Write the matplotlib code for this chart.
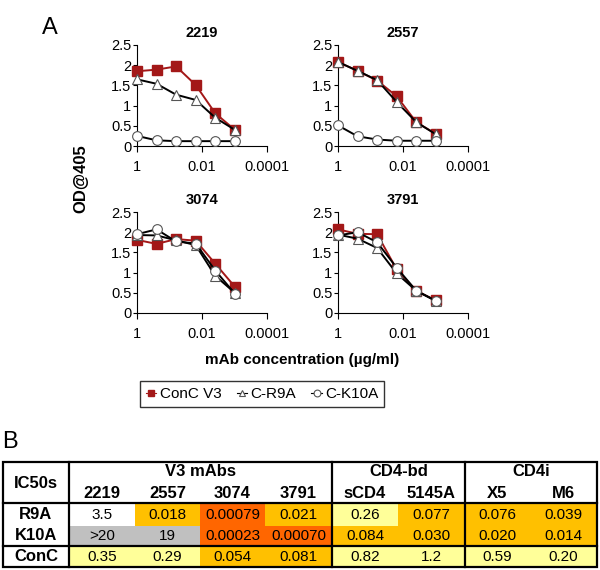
import matplotlib
matplotlib.use("Agg")
import matplotlib.pyplot as plt
from matplotlib.patches import Rectangle
from matplotlib.colors import ListedColormap, BoundaryNorm

plt.rcParams['font.family'] = ['Liberation Sans', 'DejaVu Sans']

# ---- panel A data (OD@405 vs mAb concentration, 4-fold dilutions) ----
conc = [1, 0.25, 0.0625, 0.015625, 0.00390625, 0.0009765625]
mabs = ['2219', '2557', '3074', '3791']

conc_v3 = [[1.85, 1.89, 1.97, 1.51, 0.81, 0.40],
           [2.08, 1.86, 1.62, 1.23, 0.59, 0.30],
           [1.81, 1.71, 1.83, 1.79, 1.22, 0.65],
           [2.07, 1.96, 1.95, 1.08, 0.55, 0.31]]
c_r9a = [[1.65, 1.54, 1.27, 1.14, 0.70, 0.40],
         [2.08, 1.86, 1.63, 1.09, 0.59, 0.29],
         [1.93, 1.92, 1.80, 1.68, 0.92, 0.50],
         [1.94, 1.84, 1.61, 0.98, 0.55, 0.30]]
c_k10a = [[0.25, 0.14, 0.12, 0.12, 0.12, 0.12],
          [0.51, 0.24, 0.16, 0.13, 0.13, 0.13],
          [1.95, 2.07, 1.77, 1.72, 1.05, 0.48],
          [1.92, 2.00, 1.75, 1.12, 0.55, 0.30]]

# ---- panel B data (IC50 table) ----
groups = ['V3 mAbs', 'CD4-bd', 'CD4i']
group_span = [4, 2, 2]
columns = ['2219', '2557', '3074', '3791', 'sCD4', '5145A', 'X5', 'M6']
rows = ['R9A', 'K10A', 'ConC']
ic50 = [['3.5', '0.018', '0.00079', '0.021', '0.26', '0.077', '0.076', '0.039'],
        ['>20', '19', '0.00023', '0.00070', '0.084', '0.030', '0.020', '0.014'],
        ['0.35', '0.29', '0.054', '0.081', '0.82', '1.2', '0.59', '0.20']]

fig = plt.figure(figsize=(6, 5.7), dpi=100)

red = '#a31818'
gray_edge = '#555555'
W, H = 600., 570.
col_left = [137, 338]
row_bottom = [146, 313]

for i, name in enumerate(mabs):
    r, c = i // 2, i % 2
    ax = fig.add_axes([col_left[c] / W, 1 - row_bottom[r] / H, 130 / W, 101 / H])
    ax.plot(conc, conc_v3[i], '-s', color=red, lw=1.4, ms=7, mec=red,
            label='ConC V3', zorder=3, clip_on=False)
    ax.plot(conc, c_r9a[i], '-^', color='black', lw=1.4, ms=7, mfc='white',
            mec=gray_edge, mew=0.8, label='C-R9A', zorder=4, clip_on=False)
    ax.plot(conc, c_k10a[i], '-o', color='black', lw=1.4, ms=7, mfc='white',
            mec=gray_edge, mew=0.8, label='C-K10A', zorder=5, clip_on=False)
    ax.set_xscale('log')
    ax.set_xlim(1, 1e-4)
    ax.set_ylim(0, 2.5)
    ax.set_xticks([1, 0.01, 0.0001])
    ax.set_xticklabels(['1', '0.01', '0.0001'])
    ax.minorticks_off()
    ax.set_yticks([0, 0.5, 1, 1.5, 2, 2.5])
    ax.set_yticklabels(['0', '0.5', '1', '1.5', '2', '2.5'])
    ax.tick_params(axis='x', length=4, pad=6, labelsize=10.5)
    ax.tick_params(axis='y', length=3, pad=1, labelsize=10.5)
    ax.spines['top'].set_visible(False)
    ax.spines['right'].set_visible(False)
    ax.set_title(name, fontsize=10.5, fontweight='bold', pad=6)
    ax.patch.set_alpha(0)
    if i == 0:
        handles, labels = ax.get_legend_handles_labels()

fig.text(0.07, 0.97, 'A', fontsize=17, va='top')
fig.text(81 / W, 1 - 179 / H, 'OD@405', rotation=90, fontsize=12,
         fontweight='bold', ha='center', va='center')
fig.text(302 / W, 1 - 360 / H, 'mAb concentration (µg/ml)', fontsize=11,
         fontweight='bold', ha='center', va='center')
leg = fig.legend(handles, labels, loc='center', ncol=3,
                 bbox_to_anchor=(262 / W, 1 - 394 / H), fontsize=11,
                 frameon=True, fancybox=False, edgecolor='black',
                 handlelength=0.7, handletextpad=0.2, columnspacing=1.0,
                 markerscale=0.7, borderpad=0.4)
leg.get_frame().set_linewidth(1.0)
for ln in leg.get_lines():
    ln.set_linewidth(0.8)

# ---- panel B table ----
fig.text(0.004, 1 - 431 / H, 'B', fontsize=17, va='top')
tax = fig.add_axes([3 / W, 1 - 567 / H, 594 / W, 105 / H])
tax.set_xlim(3, 597)
tax.set_ylim(567, 462)
tax.axis('off')

col_edges = [3, 69, 135, 200, 265, 332, 398, 465, 530, 597]
row_edges = [503, 526, 546, 567]

# colour by IC50 class
cmap = ListedColormap(['#ff6600', '#ffc000', '#ffff99', 'white', '#c0c0c0'])
norm = BoundaryNorm([0, 0.001, 0.1, 2, 10, 1000], cmap.N)

for ri, rname in enumerate(rows):
    y0, y1 = row_edges[ri], row_edges[ri + 1]
    tax.text((col_edges[0] + col_edges[1]) / 2, (y0 + y1) / 2, rname,
             ha='center', va='center', fontsize=12, fontweight='bold')
    for ci, val in enumerate(ic50[ri]):
        x0, x1 = col_edges[ci + 1], col_edges[ci + 2]
        num = float(val.lstrip('>'))
        tax.add_patch(Rectangle((x0, y0), x1 - x0, y1 - y0,
                                facecolor=cmap(norm(num)), edgecolor='none'))
        tax.text((x0 + x1) / 2, (y0 + y1) / 2 + 0.5, val, ha='center',
                 va='center', fontsize=11)

tax.text((col_edges[0] + col_edges[1]) / 2, 483, 'IC50s', ha='center',
         va='center', fontsize=12, fontweight='bold')
k = 1
for g, span in zip(groups, group_span):
    tax.text((col_edges[k] + col_edges[k + span]) / 2, 472, g, ha='center',
             va='center', fontsize=12, fontweight='bold')
    k += span
for ci, cname in enumerate(columns):
    tax.text((col_edges[ci + 1] + col_edges[ci + 2]) / 2, 493, cname,
             ha='center', va='center', fontsize=12, fontweight='bold')

lw = 1.6
tax.add_patch(Rectangle((3, 462), 594, 105, fill=False, edgecolor='black',
                        lw=lw, clip_on=False))
for xv in [69, 332, 465]:
    tax.plot([xv, xv], [462, 567], color='black', lw=lw, clip_on=False)
for yv in [503, 546]:
    tax.plot([3, 597], [yv, yv], color='black', lw=lw, clip_on=False)

fig.savefig('out.png', dpi=100)
